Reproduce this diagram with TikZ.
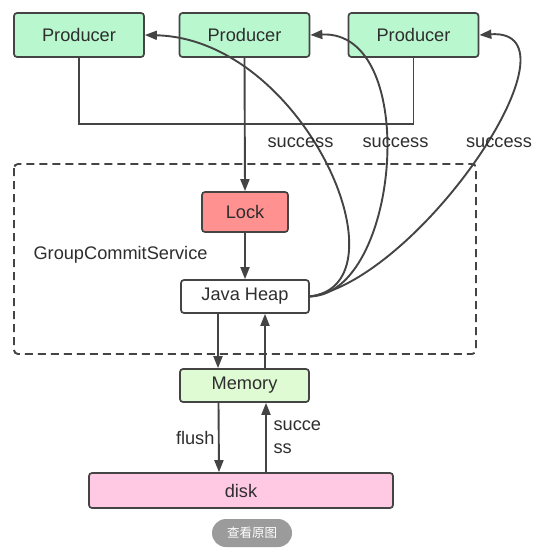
\documentclass[tikz,border=0pt]{standalone}
\usepackage{fontspec}
\setmainfont{Liberation Sans}
\newfontfamily\cjkfont{Noto Sans CJK SC}
\usetikzlibrary{arrows.meta,positioning}
\usepackage{xcolor}
\definecolor{ink}{HTML}{2E2E2E}
\definecolor{edge}{HTML}{444444}
\definecolor{producerFill}{HTML}{B9F7CF}
\definecolor{lockFill}{HTML}{FF9191}
\definecolor{memoryFill}{HTML}{DFFBD3}
\definecolor{diskFill}{HTML}{FFC9E4}
\definecolor{buttonFill}{HTML}{9B9B9B}
\tikzset{
  base/.style={font=\fontsize{18.2}{23}\selectfont, text=ink},
  box/.style={base, rounded corners=3pt, draw=edge, line width=1.7pt, inner sep=0pt, align=center},
  producer/.style={box, fill=producerFill, minimum width=130pt, minimum height=44pt},
  lockbox/.style={box, fill=lockFill, minimum width=86pt, minimum height=40pt},
  heap/.style={box, fill=white, minimum width=128pt, minimum height=33pt},
  memory/.style={box, fill=memoryFill, minimum width=129pt, minimum height=33pt},
  diskbox/.style={box, fill=diskFill, minimum width=304pt, minimum height=35pt},
  arrow/.style={-{Triangle[length=12pt,width=9pt]}, line width=1.9pt, draw=edge},
  link/.style={line width=1.9pt, draw=edge},
  group/.style={draw=edge, line width=1.9pt, dash pattern=on 8pt off 5pt, rounded corners=4pt},
  label/.style={base},
}

\begin{document}
\begin{tikzpicture}[x=1pt,y=-1pt]
  \useasboundingbox[fill=white] (0,0) rectangle (553,559);

  % producers
  \node[producer] (p1) at (79,35) {Producer};
  \node[producer] (p2) at (244.5,35) {Producer};
  \node[producer] (p3) at (413.5,35) {Producer};

  % group commit service
  \node[lockbox] (lock) at (245,212) {Lock};
  \node[heap] (jh) at (245,296.5) {Java Heap};
  \draw[group] (14,164) rectangle (476,354);
  \node[label,anchor=west] (gcs) at (30,255) {GroupCommitService};

  \node[memory] (mem) at (244.5,385.5) {Memory};
  \node[diskbox] (disk) at (241,490.5) {disk};

  % requests
  \coordinate (join) at (244.5,124);
  \draw[link] (p1.south) |- (join) -| (p3.south);
  \draw[arrow] (p2.south) -- (lock.north);
  \draw[arrow] (lock.south) -- (jh.north);

  % success callbacks
  \draw[arrow] (jh.east) .. controls +(100,-12) and +(160,4) .. (p1.east);
  \draw[arrow] (jh.east) .. controls +(90,-2) and +(111,-5) .. (p2.east);
  \draw[arrow] (jh.east) .. controls +(110,-17) and +(110,-7) .. (p3.east);
  \node[label] (s1) at (300.5,143) {success};
  \node[label] (s2) at (395.5,143) {success};
  \node[label] (s3) at (499,143) {success};

  % heap <-> memory <-> disk
  \draw[arrow] ([xshift=-27pt]jh.south) -- ([xshift=-26.5pt]mem.north);
  \draw[arrow] ([xshift=20.5pt]mem.north) -- ([xshift=20pt]jh.south);
  \draw[arrow] ([xshift=-26pt]mem.south) -- ([xshift=-22pt]disk.north);
  \draw[arrow] ([xshift=25pt]disk.north) -- ([xshift=21.5pt]mem.south);
  \node[label,anchor=east] (flush) at (218,438) {flush};
  \node[label,anchor=west,align=left] (ok) at (270,437.5) {succe\\ss};

  \node[rounded corners=14pt, fill=buttonFill, text=white, minimum width=80pt, minimum height=28pt, inner sep=0pt, font=\cjkfont\fontsize{12.5}{14}\selectfont] (btn) at (252,533) {查看原图};
\end{tikzpicture}
\end{document}
